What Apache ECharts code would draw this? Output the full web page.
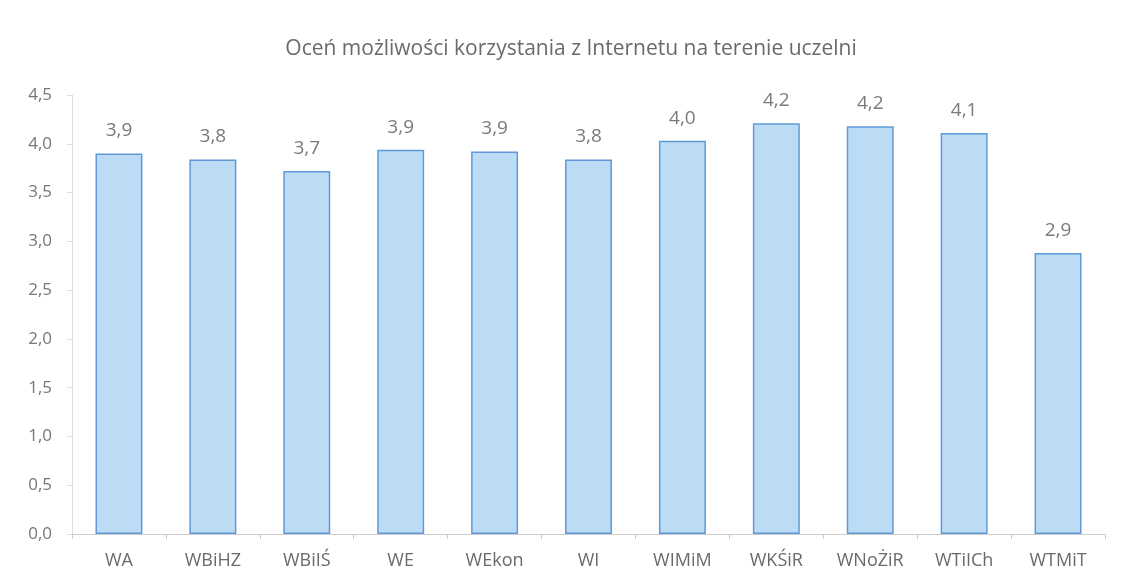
<!DOCTYPE html>
<html lang="pl">
<head>
    <meta charset="UTF-8">
    <title>Ocena Internetu</title>
    <script src="https://cdn.jsdelivr.net/npm/echarts@6/dist/echarts.min.js"></script>
    <style>
        body { margin: 0; background: #fff; }
        #main { width: 1124px; height: 585px; }
    </style>
</head>
<body>
    <div id="main"></div>
    <script>
        // dane
        const categories = ['WA', 'WBiHZ', 'WBiIŚ', 'WE', 'WEkon', 'WI', 'WIMiM', 'WKŚiR', 'WNoŻiR', 'WTiICh', 'WTMiT'];
        const values = [3.90, 3.84, 3.72, 3.94, 3.92, 3.84, 4.03, 4.21, 4.18, 4.11, 2.88];
        const yTicks = [0, 0.5, 1, 1.5, 2, 2.5, 3, 3.5, 4, 4.5];

        const fmt = v => v.toFixed(1).replace('.', ',');

        const myChart = echarts.init(document.getElementById('main'));

        const option = {
            backgroundColor: '#fff',
            textStyle: { fontFamily: 'Open Sans' },
            title: {
                text: 'Oceń możliwości korzystania z Internetu na terenie uczelni',
                left: 566,
                textAlign: 'center',
                top: 34,
                textStyle: { fontSize: 21, fontWeight: 'normal', color: '#6a6a6a' }
            },
            grid: { left: 72, right: 19, top: 95, bottom: 51 },
            xAxis: {
                type: 'category',
                data: categories,
                axisLine: { lineStyle: { color: '#ccc' } },
                axisTick: { show: true, alignWithLabel: false, lineStyle: { color: '#ccc' } },
                axisLabel: { fontSize: 18, color: '#6a6a6a', margin: 18 }
            },
            yAxis: {
                type: 'value',
                min: yTicks[0],
                max: yTicks[yTicks.length - 1],
                interval: 0.5,
                splitLine: { show: false },
                axisLine: { show: true, lineStyle: { color: '#ddd' } },
                axisTick: { show: true, lineStyle: { color: '#ddd' } },
                axisLabel: { fontSize: 17, color: '#777', margin: 20, formatter: v => fmt(v) }
            },
            series: [{
                type: 'bar',
                data: values,
                barWidth: '50%',
                itemStyle: { color: '#bcdcf6', borderColor: '#5f9ad6', borderWidth: 1.5 },
                label: {
                    show: true,
                    position: 'top',
                    distance: 13,
                    fontSize: 19,
                    color: '#7a7a7a',
                    formatter: p => fmt(p.value)
                }
            }]
        };

        myChart.setOption(option);
    </script>
</body>
</html>
